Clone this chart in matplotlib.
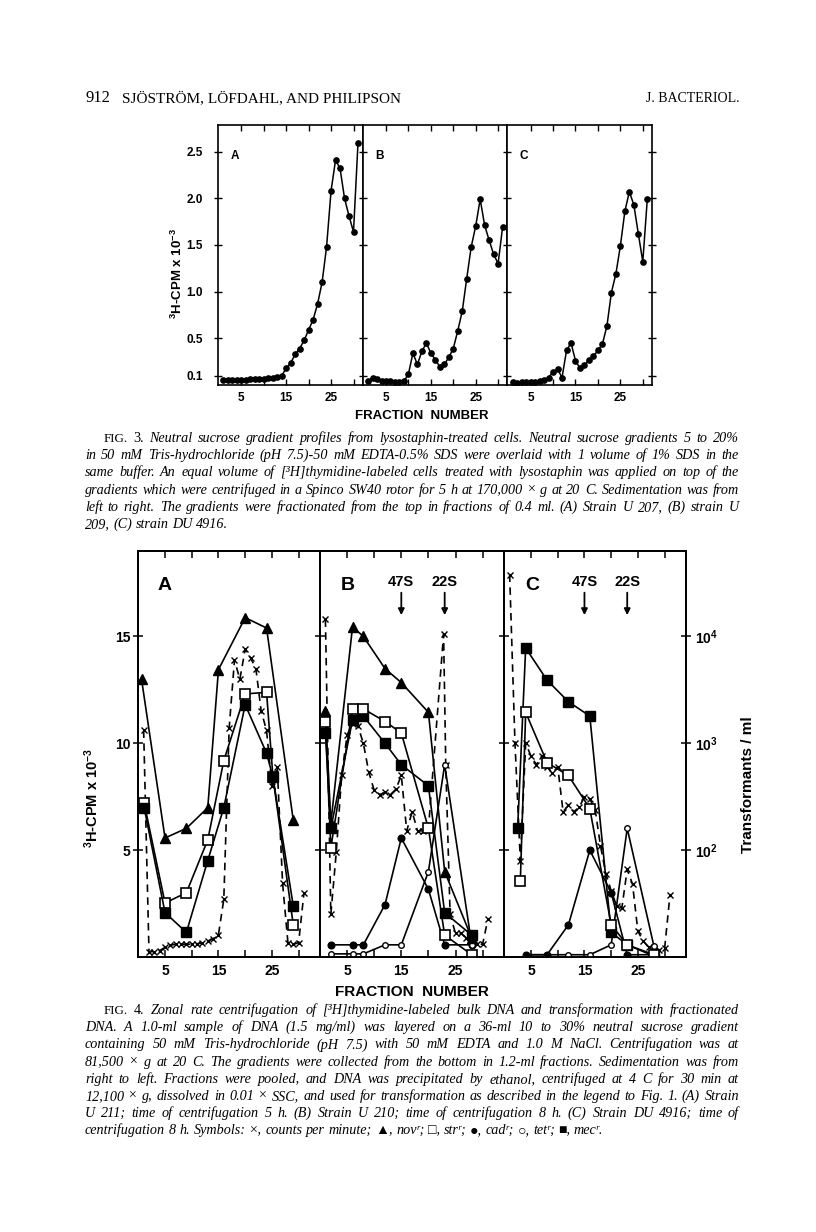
import matplotlib
matplotlib.use('Agg')
import matplotlib.pyplot as plt
from matplotlib.ticker import NullLocator

W, H = 816, 1232

plt.rcParams['font.family'] = ['Liberation Sans', 'DejaVu Sans']
plt.rcParams['font.weight'] = 'bold'
plt.rcParams['mathtext.fontset'] = 'custom'
plt.rcParams['mathtext.rm'] = 'Liberation Sans:bold'
plt.rcParams['mathtext.it'] = 'Liberation Sans:bold'
plt.rcParams['mathtext.bf'] = 'Liberation Sans:bold'

# ---------------- Fig. 3 data (3H-CPM x 10^-3 per fraction)
fig3_fractions = list(range(1, 32))
fig3_a = [0.055, 0.055, 0.058, 0.058, 0.058, 0.058, 0.06, 0.06, 0.062, 0.065,
          0.07, 0.08, 0.09, 0.10, 0.18, 0.235, 0.33, 0.39, 0.48, 0.59,
          0.70, 0.87, 1.10, 1.48, 2.08, 2.41, 2.32, 2.00, 1.81, 1.64, 2.59]
fig3_b = [0.047, 0.072, 0.06, 0.047, 0.04, 0.04, 0.037, 0.037, 0.04, 0.118,
          0.34, 0.22, 0.36, 0.45, 0.34, 0.27, 0.196, 0.22, 0.295, 0.39,
          0.58, 0.79, 1.14, 1.48, 1.70, 1.99, 1.71, 1.55, 1.40, 1.30, 1.69]
fig3_c = [0.03, 0.02, 0.03, 0.03, 0.03, 0.03, 0.04, 0.05, 0.08, 0.14,
          0.17, 0.08, 0.37, 0.45, 0.26, 0.18, 0.21, 0.27, 0.31, 0.37,
          0.44, 0.63, 0.99, 1.19, 1.49, 1.86, 2.07, 1.93, 1.62, 1.32, 1.99]
fig3_yticks = [0.1, 0.5, 1.0, 1.5, 2.0, 2.5]
fig3_ylabels = ['0.1', '0.5', '1.0', '1.5', '2.0', '2.5']

# ---------------- Fig. 4 data
# counts per minute (x 10^-3), dashed line with crosses
cpm_a_fr = list(range(1, 32))
cpm_a = [10.6, 0.25, 0.25, 0.3, 0.45, 0.55, 0.6, 0.6, 0.6, 0.6, 0.62, 0.65, 0.75, 0.85,
         1.05, 2.7, 10.7, 13.9, 13.0, 14.4, 14.0, 13.5, 11.5, 10.6, 8.0, 8.9, 3.45,
         0.67, 0.59, 0.67, 3.0]
cpm_b_fr = list(range(1, 21)) + [22.8, 23.2] + list(range(24, 32))
cpm_b = [15.8, 2.0, 4.9, 8.5, 10.4, 10.9, 10.8, 10.0, 8.65, 7.8, 7.6, 7.7, 7.6, 7.85,
         8.5, 5.9, 6.8, 5.9, 5.9, 6.0, 15.1, 9.0, 2.0, 1.1, 1.1, 0.9, 0.6, 0.6, 0.6, 1.8]
cpm_c_fr = list(range(1, 32))
cpm_c = [17.9, 10.0, 4.5, 10.0, 9.4, 9.0, 9.4, 8.9, 8.6, 8.9, 6.8, 7.1, 6.8, 7.0, 7.5,
         7.4, 6.9, 5.2, 3.9, 3.1, 2.4, 2.3, 4.1, 3.4, 1.2, 0.75, 0.45, 0.3, 0.35, 0.4, 2.9]

# transformants / ml
nov_a_fr = [0.6, 5, 9, 13, 15, 20, 24, 29]
nov_a = [4000, 130, 160, 250, 4900, 15000, 12000, 190]
sq_a_fr = [1.1, 5, 9, 13, 16, 20, 24, 25.2, 29]
str_a = [275, 32, 40, 125, 690, 2900, 3000, 480, 20]
mec_a = [250, 26, 17, 80, 250, 2300, 810, 480, 30]

b_fr = [1, 2, 6, 8, 12, 15, 20, 23, 28]
nov_b = [2000, 180, 12300, 10000, 5000, 3700, 1950, 63, 15]
str_b = [1600, 105, 2100, 2100, 1600, 1250, 160, 16, 10.5]
mec_b = [1250, 160, 1650, 1800, 1000, 630, 400, 26, 16]
cad_b = [13, 13, 13, 31, 130, 43, 13, 13]
tet_b = [10.7, 10.7, 10.7, 13, 13, 63, 630, 13]

mec_c_fr = [2.5, 4, 8, 12, 16, 20, 23, 28]
mec_c = [160, 7800, 3900, 2450, 1800, 17, 13, 10.2]
str_c_fr = [3, 4, 8, 12, 16, 20, 23, 28]
str_c = [51, 1950, 660, 500, 245, 20, 13, 10.5]
c_fr = [4, 8, 12, 16, 20, 23, 28]
cad_c = [10.5, 10.5, 20, 100, 40, 10.5, 10.5]
tet_c = [10.5, 10.5, 10.5, 10.5, 13, 160, 12.6]

markers_s = ['47S', '22S']
markers_s_fr = [15, 23]

caption3 = [
    "FIG. 3. Neutral sucrose gradient profiles from lysostaphin-treated cells. Neutral sucrose gradients 5 to 20%",
    "in 50 mM Tris-hydrochloride (pH 7.5)-50 mM EDTA-0.5% SDS were overlaid with 1 volume of 1% SDS in the",
    "same buffer. An equal volume of [³H]thymidine-labeled cells treated with lysostaphin was applied on top of the",
    "gradients which were centrifuged in a Spinco SW40 rotor for 5 h at 170,000 × g at 20 C. Sedimentation was from",
    "left to right. The gradients were fractionated from the top in fractions of 0.4 ml. (A) Strain U 207, (B) strain U",
    "209, (C) strain DU 4916.",
]
caption4 = [
    "FIG. 4. Zonal rate centrifugation of [³H]thymidine-labeled bulk DNA and transformation with fractionated",
    "DNA. A 1.0-ml sample of DNA (1.5 mg/ml) was layered on a 36-ml 10 to 30% neutral sucrose gradient",
    "containing 50 mM Tris-hydrochloride (pH 7.5) with 50 mM EDTA and 1.0 M NaCl. Centrifugation was at",
    "81,500 × g at 20 C. The gradients were collected from the bottom in 1.2-ml fractions. Sedimentation was from",
    "right to left. Fractions were pooled, and DNA was precipitated by ethanol, centrifuged at 4 C for 30 min at",
    "12,100 × g, dissolved in 0.01 × SSC, and used for transformation as described in the legend to Fig. 1. (A) Strain",
    "U 211; time of centrifugation 5 h. (B) Strain U 210; time of centrifugation 8 h. (C) Strain DU 4916; time of",
    "centrifugation 8 h. Symbols: ×, counts per minute; ▲, novʳ; □, strʳ; ●, cadʳ; ○, tetʳ; ■, mecʳ.",
]

fig = plt.figure(figsize=(W / 100, H / 100), dpi=100)
fig.patch.set_facecolor('white')
renderer = fig.canvas.get_renderer()


def px_axes(x0, y0, x1, y1):
    return fig.add_axes([x0 / W, 1 - y1 / H, (x1 - x0) / W, (y1 - y0) / H])


def px_text(x, y, s, **kw):
    return fig.text(x / W, 1 - y / H, s, **kw)


serif = ['Liberation Serif', 'DejaVu Serif', 'DejaVu Sans']
upright = {'FIG.', '3.', '4.'}
LEFT, RIGHT, INDENT = 85, 739, 104


def make_words(line, y, size):
    items = []
    for w in line.split(' '):
        st = 'normal' if w in upright else 'italic'
        fs = size * 0.92 if w == 'FIG.' else size
        items.append(px_text(0, y, w, family=serif, style=st, fontweight='normal',
                             fontsize=fs, va='baseline', ha='left'))
    return items


def fit_size(lines_sets, base=10.0):
    # largest size at which every justified line still fits with normal spaces
    best = 99
    for lines in lines_sets:
        for i, line in enumerate(lines[:-1]):
            items = make_words(line, 0, base)
            wsum = sum(t.get_window_extent(renderer).width for t in items)
            natural = wsum + (len(items) - 1) * base * 0.25 * 100 / 72
            avail = RIGHT - (INDENT if i == 0 else LEFT)
            best = min(best, base * avail / natural)
            for t in items:
                t.remove()
    return best


def caption_line(line, y, x0, x1, size, justify=True):
    items = make_words(line, y, size)
    widths = [t.get_window_extent(renderer).width for t in items]
    if justify and len(items) > 1:
        gap = (x1 - x0 - sum(widths)) / (len(items) - 1)
    else:
        gap = size * 0.25 * 100 / 72
    x = x0
    for t, w in zip(items, widths):
        t.set_x(x / W)
        x += w + gap


def caption(lines, y0, size, step=17.2):
    for i, line in enumerate(lines):
        last = i == len(lines) - 1
        caption_line(line, y0 + i * step, INDENT if i == 0 else LEFT, RIGHT, size,
                     justify=not last)


cap_size = min(fit_size([caption3, caption4]) * 0.985, 11.5)

# ---------------- header
px_text(85, 102, '912', family=serif, fontweight='normal', fontsize=12, va='baseline')
px_text(122, 102, 'SJÖSTRÖM, LÖFDAHL, AND PHILIPSON', family=serif, fontweight='normal',
        fontsize=11, va='baseline')
px_text(739, 102, 'J. BACTERIOL.', family=serif, fontweight='normal', fontsize=10,
        va='baseline', ha='right')

# ---------------- Fig. 3
edges3 = [218, 362.7, 507.3, 652]
for i, (vals, letter) in enumerate(zip([fig3_a, fig3_b, fig3_c], 'ABC')):
    ax = px_axes(edges3[i], 124.5, edges3[i + 1], 385)
    ax.plot(fig3_fractions, vals, color='k', lw=1.1, marker='o', ms=3.8)
    ax.set_xlim(-0.2, 32.05)
    ax.set_ylim(0, 2.79)
    ax.set_xticks([5, 15, 25])
    ax.set_xticks([10, 20, 30], minor=True)
    ax.set_xticklabels(['5', '15', '25'])
    ax.set_yticks(fig3_yticks)
    ax.set_yticklabels(fig3_ylabels)
    ax.tick_params(axis='x', which='both', direction='in', top=True, length=4,
                   width=1, labelsize=8.5, pad=5)
    ax.tick_params(axis='y', direction='inout', length=6, width=1, right=(i == 2),
                   labelleft=(i == 0), labelsize=8.5, pad=8)
    for s in ax.spines.values():
        s.set_linewidth(1.2)
    ax.text(3.5, 2.45, letter, fontsize=8.5, ha='center', va='center')

px_text(177, 274, '$^{3}$H-CPM x 10$^{-3}$', fontsize=9.5, rotation=90, ha='center', va='center')
px_text(422, 416, 'FRACTION  NUMBER', fontsize=9.5, ha='center', va='center')
caption(caption3, 442, cap_size)

# ---------------- Fig. 4
edges4 = [138.3, 320, 504.3, 686]
cpm_sets = [(cpm_a_fr, cpm_a), (cpm_b_fr, cpm_b), (cpm_c_fr, cpm_c)]
solid = dict(color='k', lw=1.2)
for i, letter in enumerate('ABC'):
    ax = px_axes(edges4[i], 551, edges4[i + 1], 957)
    fr, cpm = cpm_sets[i]
    ax.plot(fr, cpm, color='k', lw=1.2, ls=(0, (4.5, 3.2)), marker='x', ms=4.2, mew=1.0)
    ax.set_xlim(0, 34)
    ax.set_ylim(0, 19)
    ax.set_xticks([5, 15, 25])
    ax.set_xticks([10, 20, 30], minor=True)
    ax.set_xticklabels(['5', '15', '25'])
    ax.set_yticks([5, 10, 15])
    ax.set_yticklabels(['5', '10', '15'])
    ax.tick_params(axis='x', which='both', direction='in', top=True, length=5,
                   width=1.1, labelsize=10, pad=5)
    ax.tick_params(axis='y', direction='inout', length=7, width=1.1, labelleft=(i == 0),
                   labelsize=10, pad=2)
    for s in ax.spines.values():
        s.set_linewidth(1.3)

    tw = ax.twinx()
    tw.set_yscale('log')
    tw.set_ylim(10, 10 ** 4.8)
    tw.yaxis.set_minor_locator(NullLocator())
    for s in tw.spines.values():
        s.set_linewidth(1.3)
    if i == 0:
        tw.plot(nov_a_fr, nov_a, marker='^', ms=6.5, mfc='k', mec='k', **solid)
        tw.plot(sq_a_fr, str_a, marker='s', ms=6.5, mfc='white', mec='k', mew=1.2, **solid)
        tw.plot(sq_a_fr, mec_a, marker='s', ms=6.5, mfc='k', mec='k', **solid)
    elif i == 1:
        tw.plot(b_fr[1:], cad_b, marker='o', ms=4.8, mfc='k', mec='k', **solid)
        tw.plot(b_fr[1:], tet_b, marker='o', ms=4.0, mfc='white', mec='k', mew=1.0, **solid)
        tw.plot(b_fr, nov_b, marker='^', ms=6.5, mfc='k', mec='k', **solid)
        tw.plot(b_fr, mec_b, marker='s', ms=6.5, mfc='k', mec='k', **solid)
        tw.plot(b_fr, str_b, marker='s', ms=6.5, mfc='white', mec='k', mew=1.2, **solid)
    else:
        tw.plot(c_fr, tet_c, marker='o', ms=4.0, mfc='white', mec='k', mew=1.0, **solid)
        tw.plot(c_fr, cad_c, marker='o', ms=4.8, mfc='k', mec='k', **solid)
        tw.plot(mec_c_fr, mec_c, marker='s', ms=6.5, mfc='k', mec='k', **solid)
        tw.plot(str_c_fr, str_c, marker='s', ms=6.5, mfc='white', mec='k', mew=1.2, **solid)
    if i == 2:
        tw.set_yticks([1e2, 1e3, 1e4])
        tw.set_yticklabels(['10$^{2}$', '10$^{3}$', '10$^{4}$'])
        tw.tick_params(axis='y', direction='inout', length=7, width=1.1, labelsize=10, pad=3)
    else:
        tw.tick_params(axis='y', right=False, labelright=False)

    ax.text(5.0 if i == 0 else 5.2, 17.4, letter, fontsize=14, ha='center', va='center')
    if i > 0:
        for lab, f in zip(markers_s, markers_s_fr):
            ax.text(f, 17.55, lab, fontsize=10.5, ha='center', va='center')
            ax.annotate('', xy=(f, 16.0), xytext=(f, 17.05),
                        arrowprops=dict(arrowstyle='-|>', color='k', lw=1.3,
                                        mutation_scale=9, shrinkA=0, shrinkB=0))

px_text(92, 798, '$^{3}$H-CPM x 10$^{-3}$', fontsize=10.5, rotation=90, ha='center', va='center')
px_text(748, 785, 'Transformants / ml', fontsize=11, rotation=90, ha='center', va='center')
px_text(412, 992, 'FRACTION  NUMBER', fontsize=11, ha='center', va='center')
caption(caption4, 1014, cap_size)

fig.savefig('out.png', dpi=100)
